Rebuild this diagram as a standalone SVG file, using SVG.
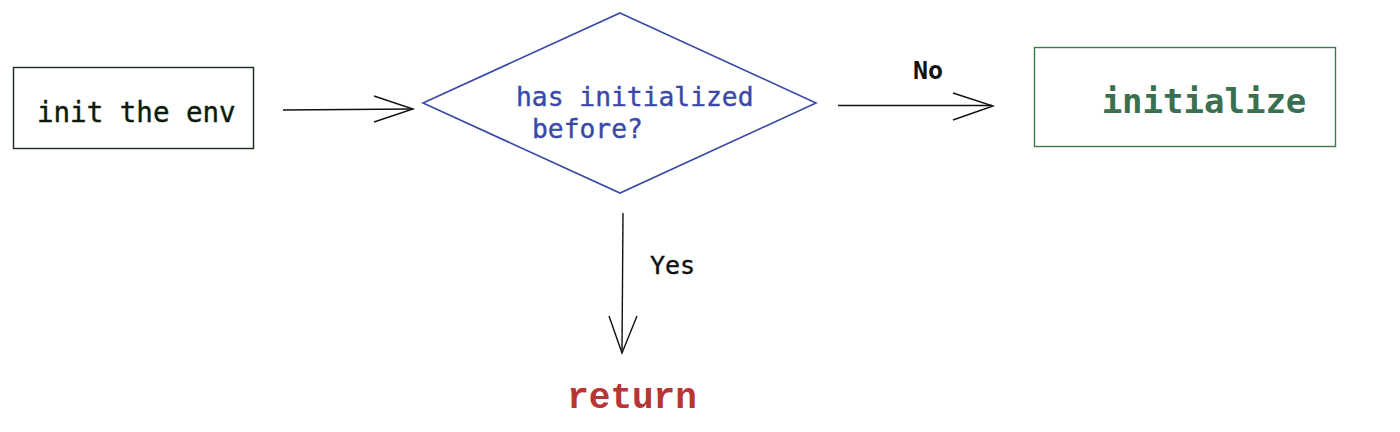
<svg xmlns="http://www.w3.org/2000/svg" width="1400" height="432" viewBox="0 0 1400 432">
<style>
.mono{font-family:"DejaVu Sans Mono","Liberation Mono",monospace;}
.conn{stroke:#111;stroke-width:1.4;fill:none;}
</style>
<rect width="1400" height="432" fill="#fff"/>
<g id="node-init-env">
<rect x="13.5" y="67.5" width="240" height="81" fill="#fff" stroke="#1a2a1a" stroke-width="1.4"/>
<text x="37" y="122" class="mono" font-size="27.5" fill="#0c1a0c" stroke="#0c1a0c" stroke-width="0.4">init the env</text>
</g>
<g id="node-decision">
<polygon points="620,13 816,103 620,193 423,103" fill="#fff" stroke="#3a48a8" stroke-width="1.6"/>
<text x="516" y="106" class="mono" font-size="26.3" fill="#3a48a8" stroke="#3a48a8" stroke-width="0.4">has initialized</text>
<text x="532" y="138" class="mono" font-size="26.3" fill="#3a48a8" stroke="#3a48a8" stroke-width="0.4">before?</text>
</g>
<g id="node-initialize">
<rect x="1034.5" y="47.5" width="301" height="99" fill="#fff" stroke="#3a7a50" stroke-width="1.4"/>
<text x="1204" y="113" class="mono" font-size="34" font-weight="bold" fill="#3a7050" text-anchor="middle">initialize</text>
</g>
<g id="node-return">
<text x="632" y="408" font-family="'Liberation Mono','Courier New',monospace" font-size="36" font-weight="bold" fill="#b83535" text-anchor="middle">return</text>
</g>
<g id="connectors">
<line class="conn" x1="283" y1="110" x2="413" y2="109"/>
<polyline class="conn" points="374,96 413,109 374,122"/>
<line class="conn" x1="838" y1="105.5" x2="992" y2="105.5"/>
<polyline class="conn" points="953,93 993,106 953,120"/>
<text x="913" y="79" class="mono" font-size="25" font-weight="bold" fill="#111">No</text>
<line class="conn" x1="623" y1="213" x2="622" y2="353"/>
<polyline class="conn" points="609,316 622,353 637,316"/>
<text x="650" y="274" class="mono" font-size="25" fill="#111" stroke="#111" stroke-width="0.4">Yes</text>
</g>
</svg>
